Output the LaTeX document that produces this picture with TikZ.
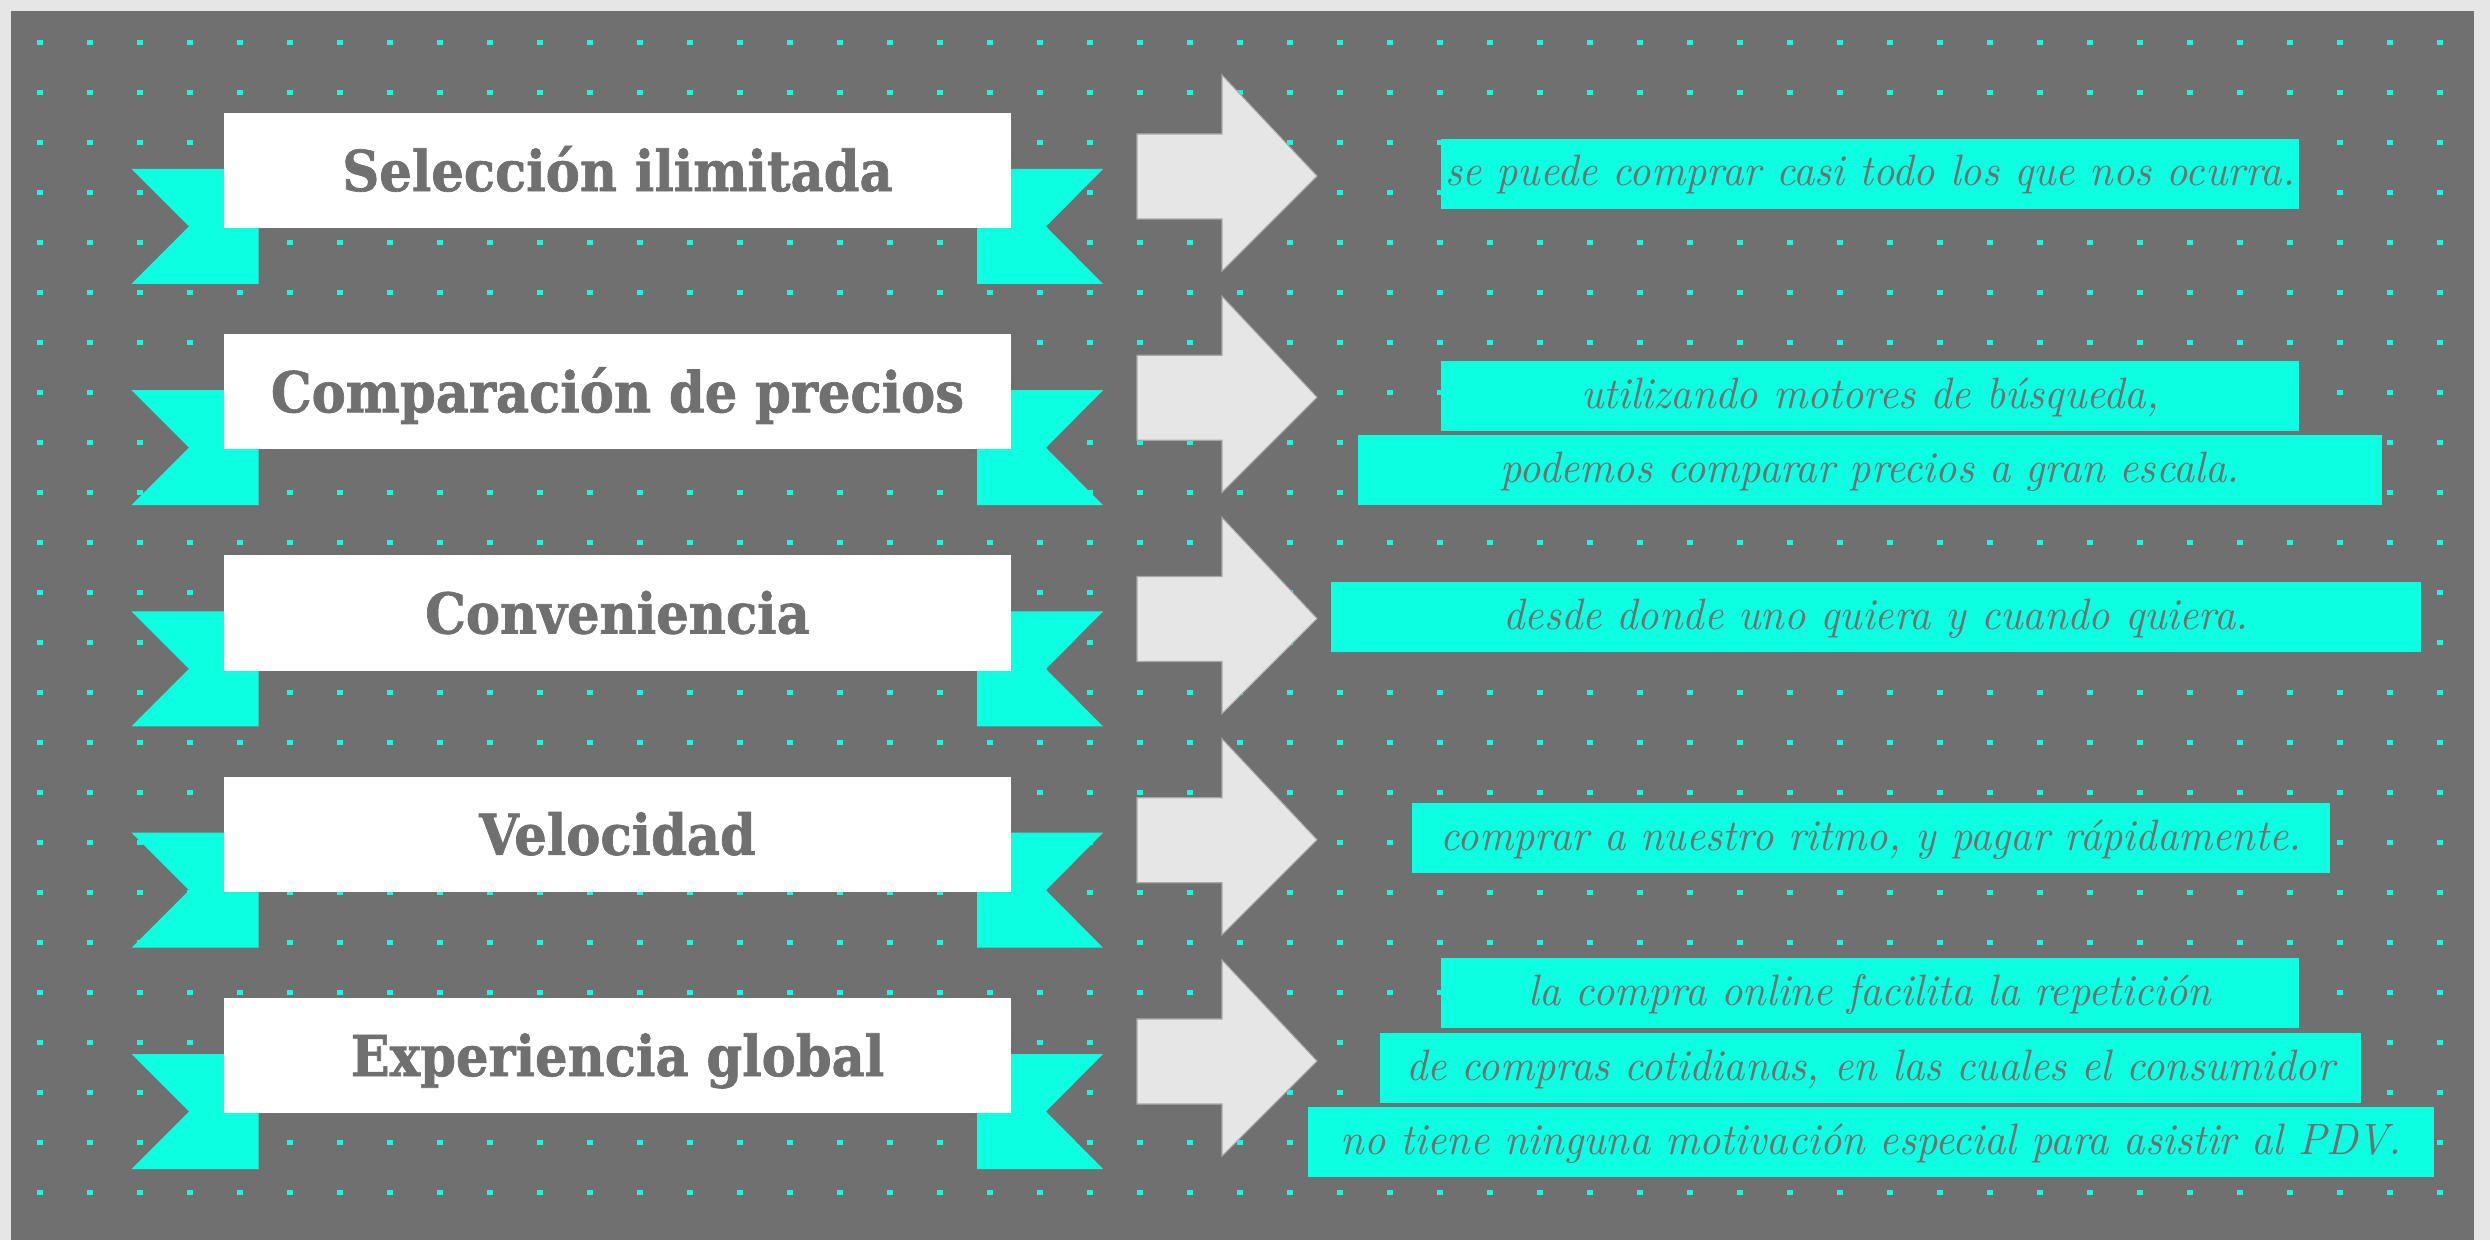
\documentclass[tikz,border=0pt]{standalone}
\usepackage{fontspec}
\newfontfamily\ribbonfont{DejaVu Serif}[FakeStretch=0.91, FakeBold=1.2]
\newfontfamily\descfont{lmroman10}[Extension=.otf, UprightFont=*-regular, ItalicFont=*-italic, FakeStretch=0.95]
\usepackage{tikz}

\definecolor{bggray}{HTML}{707070}
\definecolor{paleback}{HTML}{E6E6E6}
\definecolor{ribboncyan}{HTML}{0DFFE2}
\definecolor{arrowedge}{HTML}{A8A8A8}

\begin{document}
\begin{tikzpicture}[x=0.01cm, y=-0.01cm,
    titlebox/.style={fill=white, minimum width=7.87cm, minimum height=1.15cm, inner sep=0pt,
        text height=0.41cm, text depth=0pt, text=bggray, font=\ribbonfont\bfseries\fontsize{16}{18}\selectfont},
    descbox/.style={fill=ribboncyan, minimum height=0.7cm, inner sep=0pt,
        text height=0.32cm, text depth=0.08cm, text=bggray, font=\descfont\itshape\fontsize{12.5}{14}\selectfont},
    bigarrow/.style={fill=paleback, draw=arrowedge, line width=0.3pt}]
    % Background
    \fill[paleback] (0,0) rectangle (2490,1240);
    \fill[bggray] (11,11) rectangle (2474,1240);

    % Dot grid
    \foreach \i in {0,...,48}{
    \foreach \j in {0,...,23}{
    \fill[ribboncyan] (37+50*\i,40+50*\j) rectangle ++(5.5,5);
    }}

    % Ribbons and arrows
    \foreach \title [count=\k from 0] in {Selección ilimitada, Comparación de precios, Conveniencia, Velocidad, Experiencia global}{
    \pgfmathsetmacro{\dy}{221.25*\k}
    \fill[ribboncyan] (131.5,169+\dy) -- (258.5,169+\dy) -- (258.5,284+\dy) -- (131.5,284+\dy) -- (189,226.5+\dy) -- cycle;
    \fill[ribboncyan] (977,169+\dy) -- (1103,169+\dy) -- (1046,226.5+\dy) -- (1103,284+\dy) -- (977,284+\dy) -- cycle;
    \node[titlebox] (title\k) at (617.5,170.5+\dy) {\title};
    \coordinate (arrow\k) at (1137,134+\dy);
    \filldraw[bigarrow] (arrow\k) -- ++(85,0) -- ++(0,-59) -- ++(95,101) -- ++(-95,95) -- ++(0,-52) -- ++(-85,0) -- cycle;
    }

    % Descriptions
    \node[descbox, minimum width=8.58cm] (sel) at (1870,174) {se puede comprar casi todo los que nos ocurra.};
    \node[descbox, minimum width=8.58cm] (comp1) at (1870,396) {utilizando motores de búsqueda,};
    \node[descbox, minimum width=10.24cm] (comp2) at (1870,470) {podemos comparar precios a gran escala.};
    \node[descbox, minimum width=10.89cm] (conv) at (1876,617) {desde donde uno quiera y cuando quiera.};
    \node[descbox, minimum width=9.18cm] (vel) at (1871,838) {comprar a nuestro ritmo, y pagar rápidamente.};
    \node[descbox, minimum width=8.58cm] (exp1) at (1870,993) {la compra online facilita la repetición};
    \node[descbox, minimum width=9.81cm] (exp2) at (1870.5,1068) {de compras cotidianas, en las cuales el consumidor};
    \node[descbox, minimum width=11.26cm] (exp3) at (1871,1142) {no tiene ninguna motivación especial para asistir al PDV.};
\end{tikzpicture}
\end{document}
